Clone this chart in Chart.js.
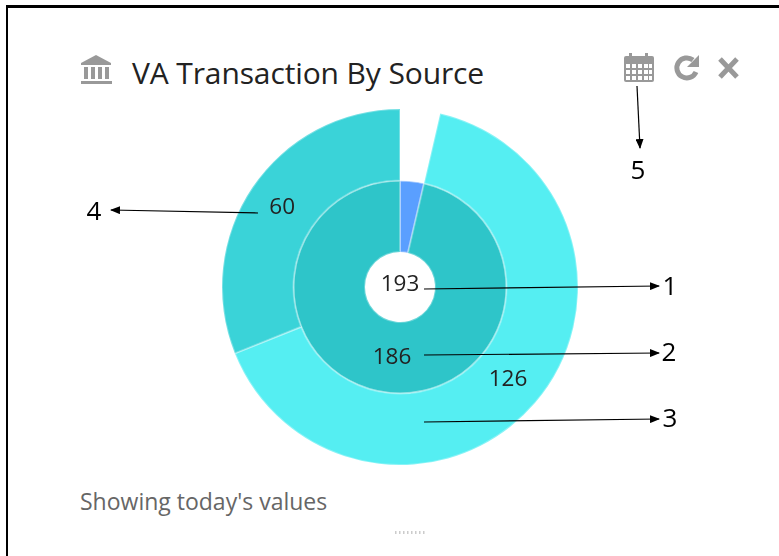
<!DOCTYPE html>
<html><head><meta charset="utf-8">
<style>
html,body{margin:0;padding:0;background:#fff;}
#page{position:relative;width:779px;height:556px;overflow:hidden;background:#fff;font-family:"Open Sans",sans-serif;}
#frameL{position:absolute;left:6px;top:5px;width:2px;height:551px;background:#000;}
#frameT{position:absolute;left:6px;top:5px;width:773px;height:3px;background:#000;}
#title{position:absolute;left:132px;top:53px;font-size:30px;line-height:40px;color:#222;white-space:nowrap;letter-spacing:-.12px;}
#foot{position:absolute;left:80px;top:486px;font-size:23px;line-height:30px;color:#666;white-space:nowrap;}
#wrap{position:absolute;left:221px;top:108px;width:358px;height:358px;}
svg{position:absolute;left:0;top:0;}
</style></head><body>
<div id="page">
<div id="frameL"></div><div id="frameT"></div>
<div id="title">VA Transaction By Source</div>
<div id="foot">Showing today's values</div>
<div id="wrap"><canvas id="c" width="358" height="358"></canvas></div>
<svg width="779" height="556" viewBox="0 0 779 556">
<defs><marker id="ah" markerWidth="10" markerHeight="8" refX="9" refY="4" orient="auto" markerUnits="userSpaceOnUse"><path d="M0 0L10 4L0 8Z" fill="#000"/></marker></defs>
<g fill="#999">
<path d="M96 55L111 63V65H81V63Z"/><rect x="84" y="67" width="4" height="12"/><rect x="91" y="67" width="4" height="12"/><rect x="98" y="67" width="4" height="12"/><rect x="105" y="67" width="4" height="12" /><rect x="81" y="81" width="31" height="3"/>
<rect x="624" y="56" width="30" height="26" rx="2"/><rect x="629" y="53" width="3" height="5"/><rect x="645" y="53" width="3" height="5"/>
</g>
<g fill="#fff"><rect x="626" y="64" width="4" height="4"/><rect x="632" y="64" width="4" height="4"/><rect x="638" y="64" width="4" height="4"/><rect x="644" y="64" width="4" height="4"/><rect x="649" y="64" width="3" height="4"/>
<rect x="626" y="70" width="4" height="4"/><rect x="632" y="70" width="4" height="4"/><rect x="638" y="70" width="4" height="4"/><rect x="644" y="70" width="4" height="4"/><rect x="649" y="70" width="3" height="4"/>
<rect x="626" y="76" width="4" height="4"/><rect x="632" y="76" width="4" height="4"/><rect x="638" y="76" width="4" height="4"/><rect x="644" y="76" width="4" height="4"/><rect x="649" y="76" width="3" height="4"/></g>
<path d="M696 72A10 10 0 1 1 693 60" fill="none" stroke="#999" stroke-width="5"/><path d="M699 55V67H687Z" fill="#999"/>
<path d="M720 59L737 77M737 59L720 77" stroke="#999" stroke-width="5" fill="none"/>
<line x1="395" y1="532.500" x2="427" y2="532.500" stroke="#ccc" stroke-width="3" stroke-dasharray="1.500 2.500"/>
<g stroke="#000" stroke-width="1.200" fill="none">
<line x1="424" y1="289" x2="659" y2="286" marker-end="url(#ah)"/>
<line x1="424" y1="355" x2="659" y2="353" marker-end="url(#ah)"/>
<line x1="424" y1="422" x2="659" y2="419" marker-end="url(#ah)"/>
<line x1="258" y1="213" x2="111" y2="210" marker-end="url(#ah)"/>
<line x1="637" y1="86" x2="640" y2="148" marker-end="url(#ah)"/>
</g>
<g font-size="26" fill="#000" font-family="Open Sans" text-anchor="middle">
<text x="670" y="295">1</text><text x="669" y="361">2</text><text x="670" y="427">3</text><text x="94" y="220">4</text><text x="638" y="179">5</text>
</g>
</svg>
</div>
<script src="https://cdn.jsdelivr.net/npm/chart.js@4/dist/chart.umd.min.js"></script>
<script>
const outerValues=[7,126,60];
const innerValues=[7,186];
const totalValue=193;
const outerColors=['#ffffff','#55EEF2','#3AD3D8'];
const innerColors=['#5A9FFF','#2EC5C9'];
const outerLabels=[null,'126','60'];
const innerLabels=[null,'186'];
const labelsPlugin={id:'vals',afterDatasetsDraw(ch){
 const x=ch.ctx;x.save();x.font='22.5px "Open Sans"';x.fillStyle='#222';x.textAlign='center';x.textBaseline='middle';
 [outerLabels,innerLabels].forEach((ls,i)=>{ch.getDatasetMeta(i).data.forEach((a,j)=>{const t=ls[j];if(t){const p=a.getCenterPoint();x.fillText(t,p.x,p.y);}});});
 const c=ch.getDatasetMeta(0).data[0];x.fillText(String(totalValue),c.x,c.y-2);x.restore();
}};
Chart.defaults.animation=false;
new Chart(document.getElementById('c'),{type:'doughnut',
 data:{labels:['a','b','c'],datasets:[
  {data:outerValues,backgroundColor:outerColors,borderColor:'rgba(255,255,255,0.3)',borderWidth:2},
  {data:innerValues,backgroundColor:innerColors,borderColor:'rgba(255,255,255,0.3)',borderWidth:2}]},
 options:{responsive:false,cutout:35,layout:{padding:0},plugins:{legend:{display:false},tooltip:{enabled:false},title:{display:false}}},
 plugins:[labelsPlugin]});
</script>
</body></html>
